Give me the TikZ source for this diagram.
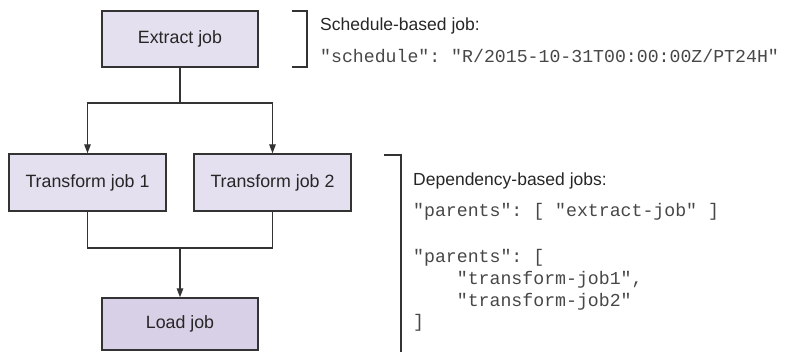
\documentclass[tikz,border=0pt]{standalone}
\usepackage{fontspec}
\setmainfont{Liberation Sans}
\setmonofont{Liberation Mono}
\usetikzlibrary{arrows.meta}
\definecolor{boxfill}{HTML}{E4E0EF}
\definecolor{loadfill}{HTML}{D8D0E6}
\definecolor{linec}{HTML}{333333}
\begin{document}
\begin{tikzpicture}[x=1pt,y=-1pt,
  jobbox/.style={draw=linec,line width=1.4pt,fill=boxfill,minimum width=156pt,minimum height=56pt,inner sep=0pt,font=\fontsize{17.8}{21}\selectfont,text=black!85},
  conn/.style={draw=linec,line width=1.4pt},
  arr/.style={conn,-{Triangle[length=9pt,width=6.5pt]}},
  brk/.style={draw=linec,line width=1.4pt},
  lbl/.style={anchor=base west,inner sep=0pt,font=\fontsize{17.5}{21}\selectfont,text=black!85},
  code/.style={anchor=base west,inner sep=0pt,font=\ttfamily\fontsize{18.2}{21}\selectfont,text=black!72}]
\useasboundingbox (0,0) rectangle (789,352);
\node[jobbox] (extract) at (180,39) {Extract job};
\node[jobbox,minimum width=157pt,minimum height=57pt] (t1) at (87.5,182.5) {Transform job 1};
\node[jobbox,minimum width=157pt,minimum height=57pt] (t2) at (272.5,182.5) {Transform job 2};
\node[jobbox,fill=loadfill,minimum height=52pt] (load) at (180,324) {Load job};
\coordinate (split) at (180,103);
\coordinate (merge) at (180,248);
\draw[conn] (extract.south) -- (split);
\draw[arr] (split) -| (t1.north);
\draw[arr] (split) -| (t2.north);
\draw[conn] (t1.south) |- (merge);
\draw[conn] (t2.south) |- (merge);
\draw[arr] (merge) -- (load.north);
% brackets
\coordinate (b1a) at (292,11);
\coordinate (b1b) at (307,67);
\draw[brk] (b1a) -- (b1a -| b1b) -- (b1b) -- (b1b -| b1a);
\coordinate (b2a) at (384,155);
\coordinate (b2b) at (401,353);
\draw[brk] (b2a) -- (b2a -| b2b) -- (b2b);
% texts
\node[lbl] (schedtitle) at (320,31) {Schedule-based job:};
\node[code] (schedcode) at (320,63) {"schedule": "R/2015-10-31T00:00:00Z/PT24H"};
\node[lbl] (deptitle) at (413,186) {Dependency-based jobs:};
\node[code] (dep1) at (413,217) {"parents": [ "extract-job" ]};
\node[code] (dep2) at (413,263) {"parents": [};
\node[code] (dep3) at (413,285) {\ \ \ \ "transform-job1",};
\node[code] (dep4) at (413,306) {\ \ \ \ "transform-job2"};
\node[code] (dep5) at (413,327) {]};
\end{tikzpicture}
\end{document}
